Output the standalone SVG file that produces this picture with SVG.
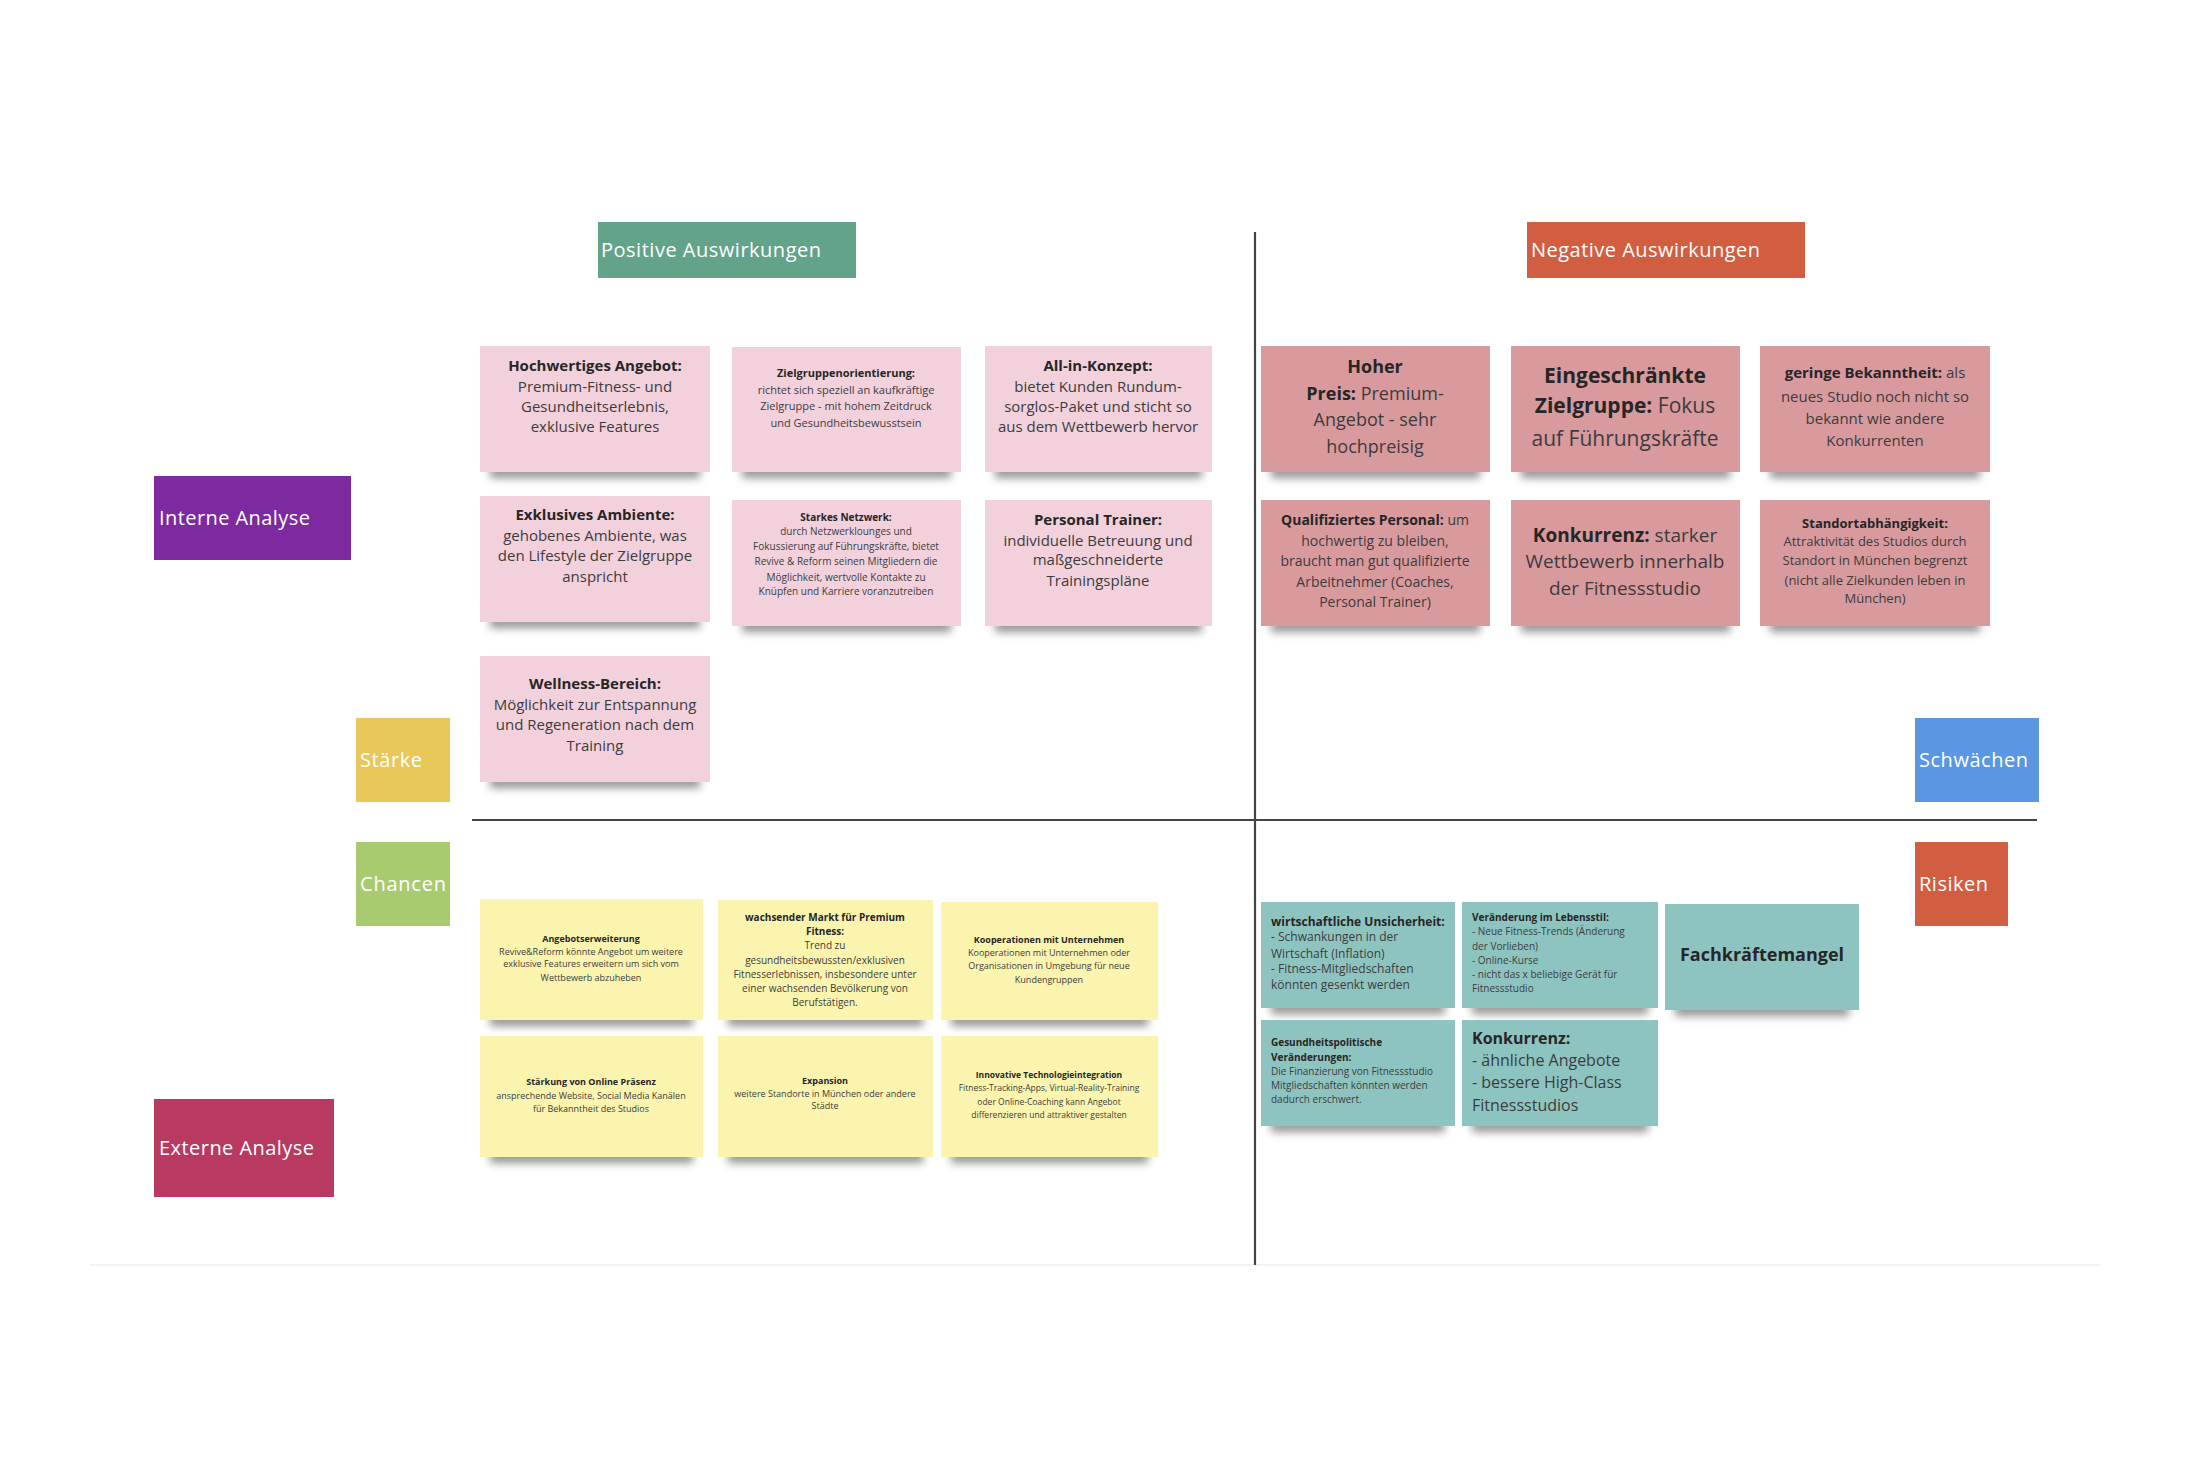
<svg xmlns="http://www.w3.org/2000/svg" width="2190" height="1460" viewBox="0 0 2190 1460">
<defs>
<filter id="sh" x="-20%" y="-200%" width="140%" height="500%"><feGaussianBlur stdDeviation="4"/></filter>
<style>
text{font-family:"Open Sans","Liberation Sans",sans-serif}
.c{text-anchor:middle;fill:#3c3c3c}
.l{text-anchor:start;fill:#3c3c3c}
.b{font-weight:700;fill:#262626}
.w{fill:#fff;font-size:20px}
.pk{fill:#F2D1DC}
.ng{fill:#D99A9E}
.ye{fill:#FBF4AE}
.te{fill:#8EC4C0}
.s{fill:#3a3a3a;opacity:.55;filter:url(#sh)}
.ax{stroke:#444;stroke-width:2.2}
</style>
</defs>
<rect width="2190" height="1460" fill="#fff"/>
<line x1="90" y1="1265" x2="2100" y2="1265" stroke="#f3f3f3" stroke-width="2"/>

<g id="axes">
<line class="ax" x1="1255" y1="232" x2="1255" y2="1265"/>
<line class="ax" x1="472" y1="820" x2="2037" y2="820"/>
</g>

<g id="positive-header"><rect x="598" y="222" width="258" height="56" fill="#62A38A"/><text class="w" x="601" y="257" textLength="220">Positive Auswirkungen</text></g>
<g id="negative-header"><rect x="1527" y="222" width="278" height="56" fill="#D15E41"/><text class="w" x="1531" y="257" textLength="229">Negative Auswirkungen</text></g>
<g id="interne-analyse"><rect x="154" y="476" width="197" height="84" fill="#7D2AA0"/><text class="w" x="159" y="525" textLength="151">Interne Analyse</text></g>
<g id="staerke"><rect x="356" y="718" width="94" height="84" fill="#E8C85A"/><text class="w" x="360" y="767" textLength="62">Stärke</text></g>
<g id="chancen"><rect x="356" y="842" width="94" height="84" fill="#A9CB70"/><text class="w" x="360" y="891" textLength="86">Chancen</text></g>
<g id="schwaechen"><rect x="1915" y="718" width="124" height="84" fill="#5B96E3"/><text class="w" x="1919" y="767" textLength="109">Schwächen</text></g>
<g id="risiken"><rect x="1915" y="842" width="93" height="84" fill="#D15E41"/><text class="w" x="1919" y="891" textLength="69">Risiken</text></g>
<g id="externe-analyse"><rect x="154" y="1099" width="180" height="98" fill="#B83A60"/><text class="w" x="159" y="1155" textLength="155">Externe Analyse</text></g>

<!-- Staerken -->
<g id="s1"><rect class="s" x="490" y="466" width="210" height="12"/><rect class="pk" x="480" y="346" width="230" height="126"/>
<text class="c" font-size="15"><tspan class="b" x="595" y="371">Hochwertiges Angebot:</tspan><tspan x="595" y="392">Premium-Fitness- und</tspan><tspan x="595" y="412">Gesundheitserlebnis,</tspan><tspan x="595" y="432">exklusive Features</tspan></text></g>
<g id="s2"><rect class="s" x="742" y="466" width="209" height="12"/><rect class="pk" x="732" y="347" width="229" height="125"/>
<text class="c" font-size="11"><tspan class="b" x="846" y="377">Zielgruppenorientierung:</tspan><tspan x="846" y="394">richtet sich speziell an kaufkräftige</tspan><tspan x="846" y="410">Zielgruppe - mit hohem Zeitdruck</tspan><tspan x="846" y="427">und Gesundheitsbewusstsein</tspan></text></g>
<g id="s3"><rect class="s" x="995" y="466" width="207" height="12"/><rect class="pk" x="985" y="346" width="227" height="126"/>
<text class="c" font-size="15"><tspan class="b" x="1098" y="371">All-in-Konzept:</tspan><tspan x="1098" y="392">bietet Kunden Rundum-</tspan><tspan x="1098" y="412">sorglos-Paket und sticht so</tspan><tspan x="1098" y="432">aus dem Wettbewerb hervor</tspan></text></g>
<g id="s4"><rect class="s" x="490" y="616" width="210" height="12"/><rect class="pk" x="480" y="496" width="230" height="126"/>
<text class="c" font-size="15"><tspan class="b" x="595" y="520">Exklusives Ambiente:</tspan><tspan x="595" y="541">gehobenes Ambiente, was</tspan><tspan x="595" y="561">den Lifestyle der Zielgruppe</tspan><tspan x="595" y="582">anspricht</tspan></text></g>
<g id="s5"><rect class="s" x="742" y="620" width="209" height="12"/><rect class="pk" x="732" y="500" width="229" height="126"/>
<text class="c" font-size="10"><tspan class="b" x="846" y="521">Starkes Netzwerk:</tspan><tspan x="846" y="535">durch Netzwerklounges und</tspan><tspan x="846" y="550">Fokussierung auf Führungskräfte, bietet</tspan><tspan x="846" y="565">Revive &amp; Reform seinen Mitgliedern die</tspan><tspan x="846" y="581">Möglichkeit, wertvolle Kontakte zu</tspan><tspan x="846" y="595">Knüpfen und Karriere voranzutreiben</tspan></text></g>
<g id="s6"><rect class="s" x="995" y="620" width="207" height="12"/><rect class="pk" x="985" y="500" width="227" height="126"/>
<text class="c" font-size="15"><tspan class="b" x="1098" y="525">Personal Trainer:</tspan><tspan x="1098" y="546">individuelle Betreuung und</tspan><tspan x="1098" y="565">maßgeschneiderte</tspan><tspan x="1098" y="586">Trainingspläne</tspan></text></g>
<g id="s7"><rect class="s" x="490" y="776" width="210" height="12"/><rect class="pk" x="480" y="656" width="230" height="126"/>
<text class="c" font-size="15"><tspan class="b" x="595" y="689">Wellness-Bereich:</tspan><tspan x="595" y="710">Möglichkeit zur Entspannung</tspan><tspan x="595" y="730">und Regeneration nach dem</tspan><tspan x="595" y="751">Training</tspan></text></g>

<!-- Schwaechen -->
<g id="w1"><rect class="s" x="1271" y="466" width="209" height="12"/><rect class="ng" x="1261" y="346" width="229" height="126"/>
<text class="c" font-size="18"><tspan class="b" x="1375" y="373">Hoher</tspan><tspan x="1375" y="400"><tspan class="b">Preis:</tspan> Premium-</tspan><tspan x="1375" y="426">Angebot - sehr</tspan><tspan x="1375" y="453">hochpreisig</tspan></text></g>
<g id="w2"><rect class="s" x="1521" y="466" width="209" height="12"/><rect class="ng" x="1511" y="346" width="229" height="126"/>
<text class="c" font-size="21"><tspan class="b" x="1625" y="383">Eingeschränkte</tspan><tspan x="1625" y="413"><tspan class="b">Zielgruppe:</tspan> Fokus</tspan><tspan x="1625" y="446">auf Führungskräfte</tspan></text></g>
<g id="w3"><rect class="s" x="1770" y="466" width="210" height="12"/><rect class="ng" x="1760" y="346" width="230" height="126"/>
<text class="c" font-size="15"><tspan x="1875" y="378"><tspan class="b">geringe Bekanntheit:</tspan> als</tspan><tspan x="1875" y="402">neues Studio noch nicht so</tspan><tspan x="1875" y="424">bekannt wie andere</tspan><tspan x="1875" y="446">Konkurrenten</tspan></text></g>
<g id="w4"><rect class="s" x="1271" y="620" width="209" height="12"/><rect class="ng" x="1261" y="500" width="229" height="126"/>
<text class="c" font-size="14"><tspan x="1375" y="525"><tspan class="b">Qualifiziertes Personal:</tspan> um</tspan><tspan x="1375" y="546">hochwertig zu bleiben,</tspan><tspan x="1375" y="566">braucht man gut qualifizierte</tspan><tspan x="1375" y="587">Arbeitnehmer (Coaches,</tspan><tspan x="1375" y="607">Personal Trainer)</tspan></text></g>
<g id="w5"><rect class="s" x="1521" y="620" width="209" height="12"/><rect class="ng" x="1511" y="500" width="229" height="126"/>
<text class="c" font-size="19"><tspan x="1625" y="542"><tspan class="b">Konkurrenz:</tspan> starker</tspan><tspan x="1625" y="568">Wettbewerb innerhalb</tspan><tspan x="1625" y="595">der Fitnessstudio</tspan></text></g>
<g id="w6"><rect class="s" x="1770" y="620" width="210" height="12"/><rect class="ng" x="1760" y="500" width="230" height="126"/>
<text class="c" font-size="13"><tspan class="b" x="1875" y="528">Standortabhängigkeit:</tspan><tspan x="1875" y="546">Attraktivität des Studios durch</tspan><tspan x="1875" y="565">Standort in München begrenzt</tspan><tspan x="1875" y="585">(nicht alle Zielkunden leben in</tspan><tspan x="1875" y="603">München)</tspan></text></g>

<!-- Chancen -->
<g id="c1"><rect class="s" x="490" y="1014" width="203" height="12"/><rect class="ye" x="480" y="899" width="223" height="121"/>
<text class="c" font-size="9"><tspan class="b" x="591" y="942">Angebotserweiterung</tspan><tspan x="591" y="955">Revive&amp;Reform könnte Angebot um weitere</tspan><tspan x="591" y="967">exklusive Features erweitern um sich vom</tspan><tspan x="591" y="981">Wettbewerb abzuheben</tspan></text></g>
<g id="c2"><rect class="s" x="728" y="1014" width="195" height="12"/><rect class="ye" x="718" y="900" width="215" height="120"/>
<text class="c" font-size="10"><tspan class="b" x="825" y="921">wachsender Markt für Premium</tspan><tspan class="b" x="825" y="935">Fitness:</tspan><tspan x="825" y="949">Trend zu</tspan><tspan x="825" y="964">gesundheitsbewussten/exklusiven</tspan><tspan x="825" y="978">Fitnesserlebnissen, insbesondere unter</tspan><tspan x="825" y="992">einer wachsenden Bevölkerung von</tspan><tspan x="825" y="1006">Berufstätigen.</tspan></text></g>
<g id="c3"><rect class="s" x="951" y="1014" width="197" height="12"/><rect class="ye" x="941" y="902" width="217" height="118"/>
<text class="c" font-size="9"><tspan class="b" x="1049" y="943">Kooperationen mit Unternehmen</tspan><tspan x="1049" y="956">Kooperationen mit Unternehmen oder</tspan><tspan x="1049" y="969">Organisationen in Umgebung für neue</tspan><tspan x="1049" y="983">Kundengruppen</tspan></text></g>
<g id="c4"><rect class="s" x="490" y="1151" width="203" height="12"/><rect class="ye" x="480" y="1036" width="223" height="121"/>
<text class="c" font-size="9"><tspan class="b" x="591" y="1085">Stärkung von Online Präsenz</tspan><tspan x="591" y="1099">ansprechende Website, Social Media Kanälen</tspan><tspan x="591" y="1112">für Bekanntheit des Studios</tspan></text></g>
<g id="c5"><rect class="s" x="728" y="1151" width="195" height="12"/><rect class="ye" x="718" y="1036" width="215" height="121"/>
<text class="c" font-size="9"><tspan class="b" x="825" y="1084">Expansion</tspan><tspan x="825" y="1097">weitere Standorte in München oder andere</tspan><tspan x="825" y="1109">Städte</tspan></text></g>
<g id="c6"><rect class="s" x="951" y="1151" width="197" height="12"/><rect class="ye" x="941" y="1036" width="217" height="121"/>
<text class="c" font-size="8.5"><tspan class="b" x="1049" y="1078">Innovative Technologieintegration</tspan><tspan x="1049" y="1091">Fitness-Tracking-Apps, Virtual-Reality-Training</tspan><tspan x="1049" y="1105">oder Online-Coaching kann Angebot</tspan><tspan x="1049" y="1118">differenzieren und attraktiver gestalten</tspan></text></g>

<!-- Risiken -->
<g id="r1"><rect class="s" x="1271" y="1002" width="174" height="12"/><rect class="te" x="1261" y="902" width="194" height="106"/>
<text class="l" font-size="12"><tspan class="b" x="1271" y="926">wirtschaftliche Unsicherheit:</tspan><tspan x="1271" y="941">- Schwankungen in der</tspan><tspan x="1271" y="958">Wirtschaft (Inflation)</tspan><tspan x="1271" y="973">- Fitness-Mitgliedschaften</tspan><tspan x="1271" y="989">könnten gesenkt werden</tspan></text></g>
<g id="r2"><rect class="s" x="1472" y="1002" width="176" height="12"/><rect class="te" x="1462" y="902" width="196" height="106"/>
<text class="l" font-size="10"><tspan class="b" x="1472" y="921">Veränderung im Lebensstil:</tspan><tspan x="1472" y="935">- Neue Fitness-Trends (Änderung</tspan><tspan x="1472" y="950">der Vorlieben)</tspan><tspan x="1472" y="964">- Online-Kurse</tspan><tspan x="1472" y="978">- nicht das x beliebige Gerät für</tspan><tspan x="1472" y="992">Fitnessstudio</tspan></text></g>
<g id="r3"><rect class="s" x="1675" y="1004" width="174" height="12"/><rect class="te" x="1665" y="904" width="194" height="106"/>
<text class="c b" font-size="18" x="1762" y="961">Fachkräftemangel</text></g>
<g id="r4"><rect class="s" x="1271" y="1120" width="174" height="12"/><rect class="te" x="1261" y="1020" width="194" height="106"/>
<text class="l" font-size="10"><tspan class="b" x="1271" y="1046">Gesundheitspolitische</tspan><tspan class="b" x="1271" y="1061">Veränderungen:</tspan><tspan x="1271" y="1075">Die Finanzierung von Fitnessstudio</tspan><tspan x="1271" y="1089">Mitgliedschaften könnten werden</tspan><tspan x="1271" y="1103">dadurch erschwert.</tspan></text></g>
<g id="r5"><rect class="s" x="1472" y="1120" width="176" height="12"/><rect class="te" x="1462" y="1020" width="196" height="106"/>
<text class="l" font-size="16"><tspan class="b" x="1472" y="1044">Konkurrenz:</tspan><tspan x="1472" y="1066">- ähnliche Angebote</tspan><tspan x="1472" y="1088">- bessere High-Class</tspan><tspan x="1472" y="1111">Fitnessstudios</tspan></text></g>
</svg>
